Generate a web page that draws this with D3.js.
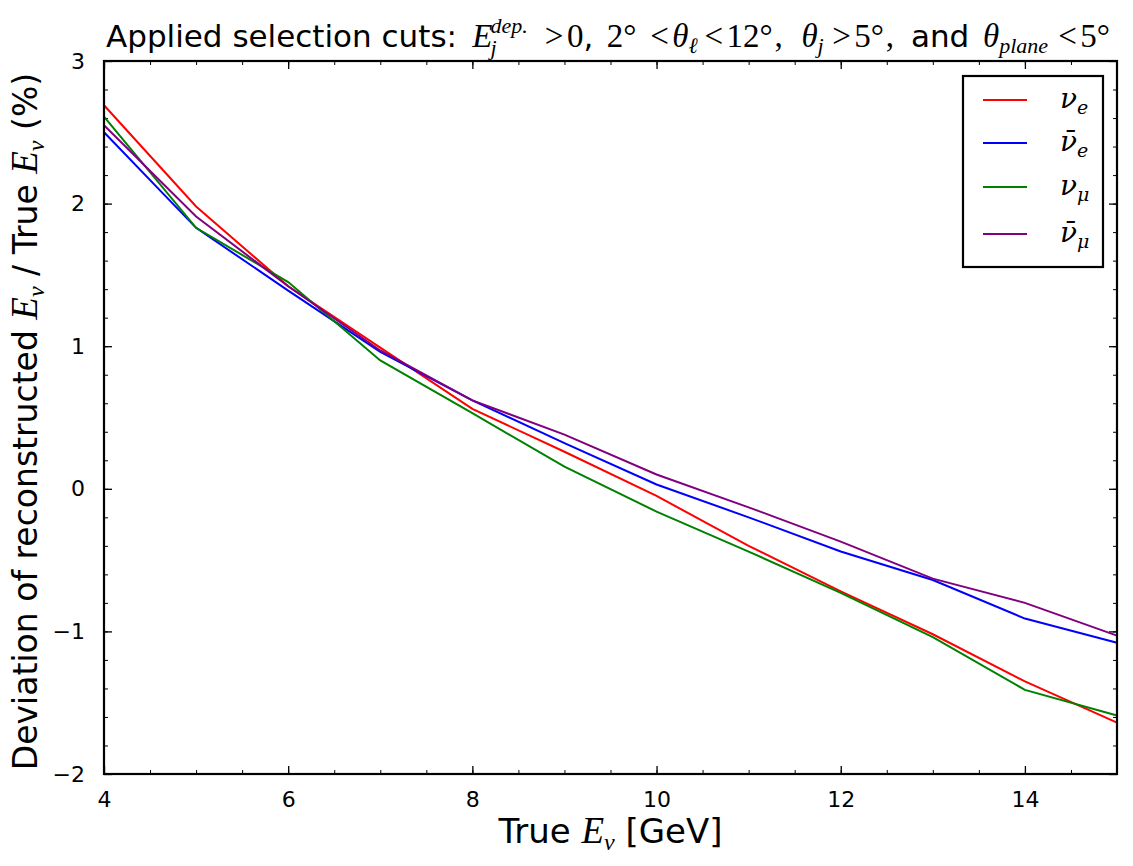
<!DOCTYPE html>
<html>
<head>
<meta charset="utf-8">
<script src="https://cdn.jsdelivr.net/npm/d3@7"></script>
<style>
  body { margin: 0; background: #fff; }
  text { font-family: "DejaVu Sans", sans-serif; fill: #000; }
  .math { font-family: "Liberation Serif", "DejaVu Serif", serif; font-style: italic; }
  .mathup { font-family: "Liberation Serif", "DejaVu Serif", serif; font-style: normal; }
  .legmath { font-family: "DejaVu Serif", serif; font-style: italic; }
</style>
</head>
<body>
<script>
// data
const energies = [4, 5, 6, 7, 8, 9, 10, 11, 12, 13, 14, 15];
const nuE      = [2.69, 1.98, 1.42, 0.99, 0.56, 0.26, -0.05, -0.40, -0.72, -1.02, -1.35, -1.64];
const nuEBar   = [2.50, 1.83, 1.39, 0.96, 0.62, 0.32, 0.03, -0.20, -0.44, -0.64, -0.91, -1.08];
const nuMu     = [2.61, 1.83, 1.45, 0.90, 0.53, 0.155, -0.16, -0.44, -0.73, -1.04, -1.41, -1.59];
const nuMuBar  = [2.55, 1.91, 1.42, 0.97, 0.62, 0.38, 0.10, -0.13, -0.37, -0.63, -0.80, -1.03];
const seriesColors = ["#ff0000", "#0000ff", "#008000", "#800080"];
const xTicks = [4, 6, 8, 10, 12, 14];
const yTicks = [-2, -1, 0, 1, 2, 3];

const W = 1133, H = 866;
const M = { left: 104, right: 16, top: 61, bottom: 92 };
const innerW = W - M.left - M.right;
const innerH = H - M.top - M.bottom;

const svg = d3.select("body").append("svg")
    .attr("width", W).attr("height", H);
svg.append("rect").attr("width", W).attr("height", H).attr("fill", "#fff");

const x = d3.scaleLinear([4, 15], [0, innerW]);
const y = d3.scaleLinear([-2, 3], [innerH, 0]);

const g = svg.append("g").attr("transform", `translate(${M.left},${M.top})`);

// minor ticks
const xMinor = d3.range(4, 15.01, 0.5);
const yMinor = d3.range(-2, 3.001, 0.2).map(v => +v.toFixed(2));

function minor(axis, transform) {
  g.append("g").attr("transform", transform)
    .call(axis.tickSizeInner(-4).tickSizeOuter(0).tickFormat(""))
    .call(a => a.select(".domain").remove())
    .call(a => a.selectAll(".tick line").attr("stroke", "#000").attr("stroke-width", 1));
}
minor(d3.axisBottom(x).tickValues(xMinor), `translate(0,${innerH})`);
minor(d3.axisTop(x).tickValues(xMinor), `translate(0,0)`);
minor(d3.axisLeft(y).tickValues(yMinor), `translate(0,0)`);
minor(d3.axisRight(y).tickValues(yMinor), `translate(${innerW},0)`);

// major ticks
function major(axis, transform, labels, pad) {
  const a = g.append("g").attr("transform", transform)
    .call(axis.tickSizeInner(-8).tickSizeOuter(0).tickPadding(pad || 0))
    .call(s => s.select(".domain").remove());
  a.selectAll(".tick line").attr("stroke", "#000").attr("stroke-width", 1.3);
  a.selectAll(".tick text").attr("font-size", 22).attr("fill", "#000")
    .style("font-family", "'DejaVu Sans', sans-serif");
  if (!labels) a.selectAll(".tick text").remove();
  return a;
}
major(d3.axisBottom(x).tickValues(xTicks).tickFormat(d3.format("d")), `translate(0,${innerH})`, true, 17);
major(d3.axisTop(x).tickValues(xTicks), `translate(0,0)`, false);
major(d3.axisLeft(y).tickValues(yTicks).tickFormat(d => d < 0 ? "\u2212" + Math.abs(d) : d), `translate(0,0)`, true, 19);
major(d3.axisRight(y).tickValues(yTicks), `translate(${innerW},0)`, false);

// lines
const allSeries = [nuE, nuEBar, nuMu, nuMuBar];
const line = d3.line().x((d, i) => x(energies[i])).y(d => y(d));
g.append("g").selectAll("path")
  .data(allSeries)
  .join("path")
    .attr("fill", "none")
    .attr("stroke", (d, i) => seriesColors[i])
    .attr("stroke-width", 2)
    .attr("d", line);

// frame
g.append("rect")
  .attr("width", innerW).attr("height", innerH)
  .attr("fill", "none").attr("stroke", "#000").attr("stroke-width", 2.2);

// legend
const legend = svg.append("g").attr("transform", "translate(963,76)");
legend.append("rect").attr("width", 140).attr("height", 191)
  .attr("fill", "#fff").attr("stroke", "#000").attr("stroke-width", 2.2);
const legendRows = [24, 67, 111, 158];
const legendLabels = [
  { base: "\u03bd", sub: "e" },
  { base: "\u03bd\u0304", sub: "e" },
  { base: "\u03bd", sub: "\u03bc" },
  { base: "\u03bd\u0304", sub: "\u03bc" }
];
legendLabels.forEach((lab, i) => {
  const row = legend.append("g").attr("transform", `translate(0,${legendRows[i]})`);
  row.append("line").attr("x1", 20).attr("x2", 64)
    .attr("stroke", seriesColors[i]).attr("stroke-width", 2);
  const t = row.append("text").attr("x", 97).attr("y", 8).attr("class", "legmath").attr("font-size", 28);
  t.append("tspan").text(lab.base);
  t.append("tspan").attr("font-size", 19).attr("dy", 6).text(lab.sub);
});

// title: pieces flowed left to right, gaps stretched to the reference's span
const TY = 47, TS = 33, TSS = 22, SANS = 31;
const titlePieces = [
  { t: "Applied selection cuts:", cls: null, size: SANS, gap: 0 },
  { t: "E", cls: "math", size: TS, gap: 9 },
  { t: "j", cls: "math", size: TSS, gap: -2, dy: 8 },
  { t: "dep.", cls: "math", size: TSS, gap: 0, dy: -14, stack: true },
  { t: ">", cls: "mathup", size: TS, gap: 10 },
  { t: "0", cls: "mathup", size: TS, gap: 2 },
  { t: ",", cls: null, size: SANS, gap: 0 },
  { t: "2\u00b0", cls: "mathup", size: TS, gap: 8 },
  { t: "<", cls: "mathup", size: TS, gap: 8 },
  { t: "\u03b8", cls: "math", size: TS, gap: 2 },
  { t: "\u2113", cls: "math", size: TSS, gap: 0, dy: 6 },
  { t: "<", cls: "mathup", size: TS, gap: 4 },
  { t: "12\u00b0", cls: "mathup", size: TS, gap: 2 },
  { t: ",", cls: "mathup", size: TS, gap: 1 },
  { t: "\u03b8", cls: "math", size: TS, gap: 11 },
  { t: "j", cls: "math", size: TSS, gap: 0, dy: 6 },
  { t: ">", cls: "mathup", size: TS, gap: 5 },
  { t: "5\u00b0", cls: "mathup", size: TS, gap: 2 },
  { t: ",", cls: "mathup", size: TS, gap: 1 },
  { t: "and", cls: null, size: SANS, gap: 10 },
  { t: "\u03b8", cls: "math", size: TS, gap: 8 },
  { t: "plane", cls: "math", size: TSS, gap: 0, dy: 6 },
  { t: "<", cls: "mathup", size: TS, gap: 6 },
  { t: "5\u00b0", cls: "mathup", size: TS, gap: 2 }
];
const titleG = svg.append("g");
const titleTexts = titlePieces.map(p => titleG.append("text")
  .attr("class", p.cls).attr("font-size", p.size)
  .attr("y", TY + (p.dy || 0)).text(p.t));
const widths = titleTexts.map(t => t.node().getComputedTextLength());
const titleStart = 106, titleEnd = 1110;

function layoutTitle(scale, apply) {
  let cursor = titleStart, prevStart = titleStart, prevEnd = titleStart;
  titlePieces.forEach((p, i) => {
    let start;
    if (p.stack) {
      start = prevStart;
      cursor = Math.max(prevEnd, start + widths[i]);
    } else {
      start = cursor + (p.gap > 0 ? p.gap * scale : p.gap);
      cursor = start + widths[i];
    }
    if (apply) titleTexts[i].attr("x", start);
    prevStart = start; prevEnd = start + widths[i];
  });
  return cursor;
}
const sumGap = d3.sum(titlePieces, p => Math.max(0, p.gap));
const naturalEnd = layoutTitle(0, false);
layoutTitle(Math.max(0.2, (titleEnd - naturalEnd) / sumGap), true);

// x label
const xl = svg.append("text").attr("x", M.left + innerW / 2).attr("y", 843)
  .attr("text-anchor", "middle").attr("font-size", 34);
xl.append("tspan").text("True ");
xl.append("tspan").attr("class", "math").attr("font-size", 37).text("E");
xl.append("tspan").attr("class", "math").attr("font-size", 24).attr("dy", 7).text("\u03bd");
xl.append("tspan").attr("dy", -7).text(" [GeV]");

// y label
const yl = svg.append("text")
  .attr("transform", `translate(37,${M.top + innerH / 2 + 4}) rotate(-90)`)
  .attr("text-anchor", "middle").attr("font-size", 33);
yl.append("tspan").text("Deviation of reconstructed ");
yl.append("tspan").attr("class", "math").attr("font-size", 37).text("E");
yl.append("tspan").attr("class", "math").attr("font-size", 24).attr("dy", 7).text("\u03bd");
yl.append("tspan").attr("dy", -7).text(" / True ");
yl.append("tspan").attr("class", "math").attr("font-size", 37).text("E");
yl.append("tspan").attr("class", "math").attr("font-size", 24).attr("dy", 7).text("\u03bd");
yl.append("tspan").attr("dy", -7).text(" (%)");
</script>
</body>
</html>
